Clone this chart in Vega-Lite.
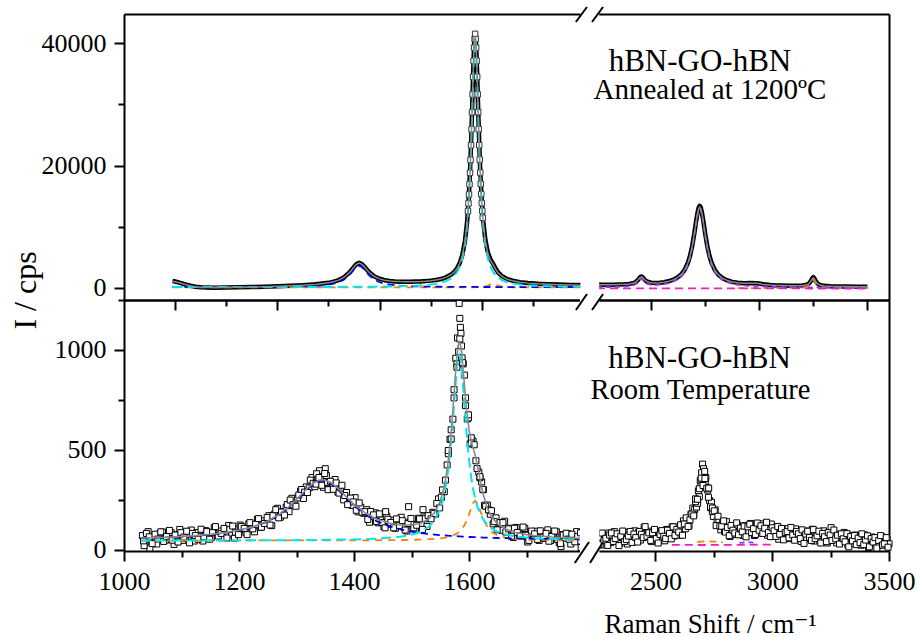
{
"$schema": "https://vega.github.io/schema/vega-lite/v6.json",
"background": "white",
"padding": {"left": 9, "top": 6, "right": 2, "bottom": 0},
"bounds": "flush",
"spacing": 0,
"config": {
  "view": {"stroke": null},
  "font": "Liberation Serif, Times New Roman, DejaVu Serif, serif",
  "axis": {"grid": false, "domainColor": "black", "domainWidth": 2, "tickColor": "black", "tickWidth": 2, "labelFont": "Liberation Serif, Times New Roman, DejaVu Serif, serif", "labelFontSize": 26, "labelColor": "black", "labelFlush": false, "labelOverlap": false, "titleFont": "Liberation Serif, Times New Roman, DejaVu Serif, serif", "titleFontWeight": "normal", "titleColor": "black", "labelPadding": 7},
  "text": {"font": "Liberation Serif, Times New Roman, DejaVu Serif, serif"}
},
"datasets": {
  "top": [
{"x":995,"s":"L","d":1100,"f":1022,"c":109,"b":113,"o":60},
{"x":1000,"s":"L","d":1030,"f":973,"c":110,"b":113,"o":60},
{"x":1010,"s":"L","d":800,"f":774,"c":110,"b":114,"o":60},
{"x":1020,"s":"L","d":540,"f":526,"c":111,"b":115,"o":60},
{"x":1030,"s":"L","d":330,"f":327,"c":111,"b":116,"o":60},
{"x":1040,"s":"L","d":170,"f":178,"c":111,"b":117,"o":60},
{"x":1050,"s":"L","d":80,"f":90,"c":112,"b":118,"o":60},
{"x":1075,"s":"L","d":20,"f":33,"c":113,"b":121,"o":60},
{"x":1100,"s":"L","d":30,"f":39,"c":114,"b":125,"o":60},
{"x":1125,"s":"L","d":80,"f":71,"c":115,"b":130,"o":60},
{"x":1150,"s":"L","d":110,"f":105,"c":117,"b":138,"o":60},
{"x":1175,"s":"L","d":170,"f":168,"c":119,"b":149,"o":60},
{"x":1200,"s":"L","d":250,"f":237,"c":122,"b":165,"o":60},
{"x":1225,"s":"L","d":320,"f":316,"c":125,"b":191,"o":61},
{"x":1250,"s":"L","d":420,"f":414,"c":129,"b":235,"o":61},
{"x":1275,"s":"L","d":560,"f":553,"c":134,"b":320,"o":61},
{"x":1300,"s":"L","d":810,"f":805,"c":140,"b":515,"o":61},
{"x":1310,"s":"L","d":990,"f":980,"c":143,"b":668,"o":61},
{"x":1320,"s":"L","d":1260,"f":1249,"c":146,"b":913,"o":61},
{"x":1330,"s":"L","d":1700,"f":1684,"c":150,"b":1324,"o":61},
{"x":1340,"s":"L","d":2420,"f":2401,"c":154,"b":2017,"o":61},
{"x":1345,"s":"L","d":2900,"f":2885,"c":156,"b":2489,"o":61},
{"x":1350,"s":"L","d":3430,"f":3409,"c":158,"b":3001,"o":61},
{"x":1355,"s":"L","d":3880,"f":3849,"c":161,"b":3428,"o":61},
{"x":1360,"s":"L","d":4080,"f":4033,"c":163,"b":3600,"o":61},
{"x":1365,"s":"L","d":3900,"f":3874,"c":166,"b":3428,"o":61},
{"x":1370,"s":"L","d":3480,"f":3460,"c":169,"b":3001,"o":61},
{"x":1375,"s":"L","d":2980,"f":2962,"c":173,"b":2489,"o":61},
{"x":1380,"s":"L","d":2520,"f":2503,"c":176,"b":2017,"o":62},
{"x":1390,"s":"L","d":1850,"f":1838,"c":184,"b":1324,"o":62},
{"x":1400,"s":"L","d":1470,"f":1456,"c":193,"b":913,"o":62},
{"x":1410,"s":"L","d":1240,"f":1237,"c":204,"b":668,"o":62},
{"x":1420,"s":"L","d":1110,"f":1112,"c":217,"b":515,"o":62},
{"x":1430,"s":"L","d":1040,"f":1042,"c":232,"b":415,"o":62},
{"x":1440,"s":"L","d":1000,"f":1007,"c":251,"b":346,"o":63},
{"x":1450,"s":"L","d":985,"f":991,"c":273,"b":297,"o":63},
{"x":1460,"s":"L","d":990,"f":993,"c":301,"b":262,"o":63},
{"x":1470,"s":"L","d":1010,"f":1006,"c":337,"b":235,"o":64},
{"x":1480,"s":"L","d":1040,"f":1036,"c":383,"b":214,"o":64},
{"x":1490,"s":"L","d":1090,"f":1085,"c":443,"b":198,"o":65},
{"x":1500,"s":"L","d":1170,"f":1159,"c":525,"b":184,"o":65},
{"x":1510,"s":"L","d":1270,"f":1262,"c":639,"b":174,"o":66},
{"x":1520,"s":"L","d":1430,"f":1420,"c":805,"b":165,"o":66},
{"x":1530,"s":"L","d":1710,"f":1693,"c":1085,"b":158,"o":67},
{"x":1540,"s":"L","d":2160,"f":2141,"c":1533,"b":152,"o":67},
{"x":1547,"s":"L","d":2680,"f":2657,"c":2052,"b":148,"o":68},
{"x":1552,"s":"L","d":3240,"f":3214,"c":2612,"b":145,"o":69},
{"x":1557,"s":"L","d":4080,"f":4042,"c":3444,"b":143,"o":70},
{"x":1562,"s":"L","d":5400,"f":5343,"c":4747,"b":141,"o":72},
{"x":1567,"s":"L","d":7600,"f":7514,"c":6920,"b":139,"o":75},
{"x":1571,"s":"L","d":10550,"f":10428,"c":9836,"b":138,"o":77},
{"x":1574,"s":"L","d":13950,"f":13815,"c":13224,"b":136,"o":79},
{"x":1577,"s":"L","d":19000,"f":18816,"c":18224,"b":135,"o":82},
{"x":1579,"s":"L","d":23500,"f":23316,"c":22726,"b":134,"o":83},
{"x":1581,"s":"L","d":29000,"f":28731,"c":28139,"b":134,"o":85},
{"x":1583,"s":"L","d":34800,"f":34514,"c":33920,"b":133,"o":88},
{"x":1584,"s":"L","d":37500,"f":37145,"c":36550,"b":133,"o":89},
{"x":1585,"s":"L","d":39700,"f":39289,"c":38693,"b":133,"o":91},
{"x":1586,"s":"L","d":41200,"f":40703,"c":40106,"b":132,"o":93},
{"x":1587,"s":"L","d":41600,"f":41198,"c":40600,"b":132,"o":95},
{"x":1588,"s":"L","d":41100,"f":40706,"c":40106,"b":132,"o":97},
{"x":1589,"s":"L","d":39650,"f":39294,"c":38693,"b":132,"o":100},
{"x":1590,"s":"L","d":37500,"f":37152,"c":36550,"b":132,"o":102},
{"x":1591,"s":"L","d":34900,"f":34524,"c":33920,"b":131,"o":105},
{"x":1593,"s":"L","d":29100,"f":28751,"c":28139,"b":131,"o":110},
{"x":1595,"s":"L","d":23700,"f":23342,"c":22726,"b":131,"o":117},
{"x":1597,"s":"L","d":19200,"f":18847,"c":18224,"b":131,"o":125},
{"x":1600,"s":"L","d":14200,"f":13861,"c":13224,"b":130,"o":142},
{"x":1603,"s":"L","d":10800,"f":10490,"c":9836,"b":129,"o":165},
{"x":1607,"s":"L","d":7850,"f":7618,"c":6920,"b":128,"o":215},
{"x":1612,"s":"L","d":5750,"f":5552,"c":4747,"b":127,"o":333},
{"x":1617,"s":"L","d":4650,"f":4468,"c":3444,"b":126,"o":563},
{"x":1622,"s":"L","d":3950,"f":3822,"c":2612,"b":125,"o":760},
{"x":1627,"s":"L","d":3150,"f":3054,"c":2052,"b":124,"o":563},
{"x":1632,"s":"L","d":2500,"f":2419,"c":1658,"b":123,"o":333},
{"x":1640,"s":"L","d":1880,"f":1823,"c":1235,"b":122,"o":176},
{"x":1650,"s":"L","d":1420,"f":1383,"c":910,"b":120,"o":113},
{"x":1660,"s":"L","d":1160,"f":1135,"c":706,"b":119,"o":90},
{"x":1675,"s":"L","d":920,"f":902,"c":519,"b":117,"o":76},
{"x":1690,"s":"L","d":780,"f":761,"c":407,"b":115,"o":69},
{"x":1710,"s":"L","d":660,"f":644,"c":316,"b":113,"o":65},
{"x":1730,"s":"L","d":580,"f":569,"c":260,"b":111,"o":63},
{"x":1750,"s":"L","d":525,"f":514,"c":223,"b":109,"o":62},
{"x":1775,"s":"L","d":475,"f":467,"c":193,"b":108,"o":61},
{"x":1796,"s":"L","d":440,"f":433,"c":175,"b":107,"o":61},
{"x":2250,"s":"R","d":520,"f":500,"p":80,"m":-90},
{"x":2275,"s":"R","d":490,"f":500,"p":90,"m":-90},
{"x":2300,"s":"R","d":510,"f":504,"p":104,"m":-91},
{"x":2325,"s":"R","d":505,"f":513,"p":123,"m":-91},
{"x":2350,"s":"R","d":540,"f":527,"p":147,"m":-92},
{"x":2375,"s":"R","d":560,"f":558,"p":188,"m":-92},
{"x":2400,"s":"R","d":640,"f":629,"p":269,"m":-93},
{"x":2420,"s":"R","d":800,"f":783,"p":429,"m":-93},
{"x":2430,"s":"R","d":980,"f":957,"p":606,"m":-94},
{"x":2440,"s":"R","d":1300,"f":1278,"p":930,"m":-94},
{"x":2450,"s":"R","d":1750,"f":1711,"p":1366,"m":-94},
{"x":2455,"s":"R","d":1840,"f":1807,"p":1463,"m":-94},
{"x":2460,"s":"R","d":1760,"f":1723,"p":1381,"m":-95},
{"x":2470,"s":"R","d":1330,"f":1316,"p":977,"m":-95},
{"x":2480,"s":"R","d":1030,"f":1021,"p":685,"m":-95},
{"x":2500,"s":"R","d":820,"f":807,"p":477,"m":-96},
{"x":2520,"s":"R","d":790,"f":780,"p":454,"m":-96},
{"x":2540,"s":"R","d":830,"f":822,"p":500,"m":-97},
{"x":2560,"s":"R","d":920,"f":910,"p":592,"m":-97},
{"x":2580,"s":"R","d":1060,"f":1049,"p":735,"m":-98},
{"x":2600,"s":"R","d":1280,"f":1266,"p":956,"m":-98},
{"x":2620,"s":"R","d":1630,"f":1610,"p":1304,"m":-99},
{"x":2640,"s":"R","d":2210,"f":2183,"p":1881,"m":-99},
{"x":2655,"s":"R","d":2920,"f":2888,"p":2589,"m":-100},
{"x":2670,"s":"R","d":4060,"f":4023,"p":3727,"m":-100},
{"x":2680,"s":"R","d":5200,"f":5163,"p":4869,"m":-100},
{"x":2690,"s":"R","d":6800,"f":6748,"p":6456,"m":-101},
{"x":2700,"s":"R","d":8900,"f":8839,"p":8549,"m":-101},
{"x":2707,"s":"R","d":10600,"f":10496,"p":10207,"m":-101},
{"x":2714,"s":"R","d":12150,"f":12032,"p":11745,"m":-101},
{"x":2720,"s":"R","d":13100,"f":12933,"p":12647,"m":-102},
{"x":2725,"s":"R","d":13400,"f":13190,"p":12905,"m":-102},
{"x":2730,"s":"R","d":13100,"f":12930,"p":12646,"m":-102},
{"x":2736,"s":"R","d":12150,"f":12027,"p":11744,"m":-102},
{"x":2743,"s":"R","d":10600,"f":10487,"p":10206,"m":-102},
{"x":2750,"s":"R","d":8900,"f":8827,"p":8547,"m":-103},
{"x":2760,"s":"R","d":6800,"f":6732,"p":6454,"m":-103},
{"x":2770,"s":"R","d":5200,"f":5142,"p":4866,"m":-103},
{"x":2780,"s":"R","d":4050,"f":3997,"p":3722,"m":-104},
{"x":2795,"s":"R","d":2900,"f":2855,"p":2582,"m":-104},
{"x":2810,"s":"R","d":2180,"f":2148,"p":1872,"m":-105},
{"x":2830,"s":"R","d":1600,"f":1570,"p":1292,"m":-105},
{"x":2850,"s":"R","d":1240,"f":1224,"p":939,"m":-106},
{"x":2875,"s":"R","d":970,"f":959,"p":667,"m":-106},
{"x":2900,"s":"R","d":820,"f":806,"p":497,"m":-107,"o":-48},
{"x":2930,"s":"R","d":740,"f":726,"p":366,"m":-108,"o":-47},
{"x":2960,"s":"R","d":770,"f":758,"p":281,"m":-108,"o":-47},
{"x":2990,"s":"R","d":745,"f":735,"p":222,"m":-109,"o":-46},
{"x":3020,"s":"R","d":565,"f":555,"p":180,"m":-110,"o":-45},
{"x":3050,"s":"R","d":450,"f":442,"p":149,"m":-110,"o":-44},
{"x":3080,"s":"R","d":385,"f":379,"p":125,"m":-111,"o":-42},
{"x":3110,"s":"R","d":360,"f":353,"p":107,"m":-112,"o":-38},
{"x":3140,"s":"R","d":335,"f":330,"p":92,"m":-112,"o":-31},
{"x":3170,"s":"R","d":330,"f":323,"p":80,"m":-113,"o":-14},
{"x":3200,"s":"R","d":370,"f":358,"p":71,"m":-114,"o":39},
{"x":3220,"s":"R","d":500,"f":478,"p":65,"m":-114,"o":171},
{"x":3230,"s":"R","d":700,"f":668,"p":63,"m":-115,"o":366},
{"x":3240,"s":"R","d":1180,"f":1127,"p":61,"m":-115,"o":830},
{"x":3245,"s":"R","d":1540,"f":1460,"p":60,"m":-115,"o":1170},
{"x":3250,"s":"R","d":1750,"f":1638,"p":59,"m":-116,"o":1350},
{"x":3255,"s":"R","d":1540,"f":1456,"p":58,"m":-116,"o":1170},
{"x":3260,"s":"R","d":1170,"f":1114,"p":57,"m":-116,"o":830},
{"x":3270,"s":"R","d":670,"f":646,"p":55,"m":-117,"o":366},
{"x":3280,"s":"R","d":460,"f":447,"p":53,"m":-117,"o":171},
{"x":3300,"s":"R","d":315,"f":307,"p":49,"m":-118,"o":39},
{"x":3330,"s":"R","d":250,"f":243,"p":44,"m":-118,"o":-14},
{"x":3360,"s":"R","d":222,"f":216,"p":40,"m":-119,"o":-31},
{"x":3400,"s":"R","d":200,"f":195,"p":36,"m":-119,"o":-40},
{"x":3450,"s":"R","d":180,"f":176,"p":31,"m":-120,"o":-44},
{"x":3500,"s":"R","d":165,"f":160,"p":27,"m":-120,"o":-46}
  ],
  "tpk": [
{"x":1573,"y":12530},{"x":1574,"y":13815},{"x":1575,"y":15270},{"x":1576,"y":16930},{"x":1577,"y":18816},{"x":1578,"y":20945},{"x":1579,"y":23316},{"x":1580,"y":25925},{"x":1581,"y":28731},{"x":1582,"y":31640},{"x":1583,"y":34514},{"x":1584,"y":37145},{"x":1585,"y":39289},{"x":1586,"y":40703},{"x":1587,"y":41550},{"x":1588,"y":40706},{"x":1589,"y":39294},{"x":1590,"y":37152},{"x":1591,"y":34524},{"x":1592,"y":31655},{"x":1593,"y":28751},{"x":1594,"y":25950},{"x":1595,"y":23342},{"x":1596,"y":20975},{"x":1597,"y":18847},{"x":1598,"y":16990},{"x":1599,"y":15335},{"x":1600,"y":13861},{"x":1601,"y":12590},{"x":1602,"y":11460}
  ],
  "bl": [
{"x":1030,"f":58,"c":46,"b":57,"o":45},{"x":1050,"f":60,"c":46,"b":59,"o":45},{"x":1075,"f":62,"c":46,"b":61,"o":45},{"x":1100,"f":66,"c":46,"b":65,"o":45},{"x":1125,"f":70,"c":46,"b":69,"o":45},{"x":1150,"f":77,"c":46,"b":75,"o":46},{"x":1175,"f":85,"c":46,"b":83,"o":46},{"x":1200,"f":97,"c":46,"b":95,"o":46},{"x":1225,"f":115,"c":47,"b":113,"o":46},{"x":1250,"f":143,"c":47,"b":141,"o":46},{"x":1270,"f":176,"c":47,"b":174,"o":46},{"x":1290,"f":223,"c":47,"b":220,"o":46},{"x":1305,"f":266,"c":48,"b":263,"o":46},{"x":1320,"f":310,"c":48,"b":306,"o":46},{"x":1330,"f":334,"c":48,"b":330,"o":46},{"x":1340,"f":348,"c":49,"b":343,"o":46},{"x":1345,"f":350,"c":49,"b":345,"o":46},{"x":1350,"f":348,"c":49,"b":343,"o":46},{"x":1360,"f":335,"c":49,"b":330,"o":46},{"x":1370,"f":312,"c":50,"b":306,"o":46},{"x":1385,"f":269,"c":50,"b":263,"o":46},{"x":1400,"f":227,"c":51,"b":220,"o":46},{"x":1420,"f":183,"c":53,"b":174,"o":46},{"x":1440,"f":152,"c":55,"b":141,"o":47},{"x":1460,"f":133,"c":59,"b":118,"o":47},{"x":1480,"f":123,"c":64,"b":102,"o":48},{"x":1500,"f":123,"c":74,"b":90,"o":49},{"x":1515,"f":131,"c":88,"b":83,"o":50},{"x":1530,"f":154,"c":114,"b":78,"o":52},{"x":1540,"f":184,"c":146,"b":75,"o":54},{"x":1550,"f":243,"c":204,"b":72,"o":56},{"x":1557,"f":317,"c":277,"b":71,"o":59},{"x":1563,"f":422,"c":380,"b":70,"o":63},{"x":1568,"f":555,"c":510,"b":69,"o":67},{"x":1572,"f":698,"c":650,"b":68,"o":71},{"x":1576,"f":862,"c":809,"b":67,"o":76},{"x":1579,"f":971,"c":913,"b":67,"o":81},{"x":1581,"f":1020,"c":959,"b":66,"o":85},{"x":1583,"f":1041,"c":975,"b":66,"o":90},{"x":1585,"f":1029,"c":959,"b":66,"o":95},{"x":1587,"f":990,"c":913,"b":65,"o":101},{"x":1590,"f":896,"c":809,"b":65,"o":113},{"x":1593,"f":791,"c":689,"b":65,"o":127},{"x":1596,"f":695,"c":576,"b":64,"o":145},{"x":1600,"f":601,"c":452,"b":63,"o":175},{"x":1604,"f":541,"c":359,"b":63,"o":209},{"x":1608,"f":501,"c":291,"b":62,"o":237},{"x":1611,"f":469,"c":252,"b":62,"o":245},{"x":1615,"f":416,"c":213,"b":62,"o":232},{"x":1620,"f":339,"c":176,"b":61,"o":192},{"x":1625,"f":273,"c":150,"b":60,"o":152},{"x":1632,"f":207,"c":125,"b":60,"o":113},{"x":1640,"f":161,"c":105,"b":59,"o":87},{"x":1650,"f":128,"c":89,"b":58,"o":71},{"x":1665,"f":101,"c":75,"b":57,"o":59},{"x":1680,"f":87,"c":67,"b":56,"o":54},{"x":1700,"f":75,"c":60,"b":55,"o":51},{"x":1720,"f":68,"c":56,"b":54,"o":49},{"x":1745,"f":63,"c":53,"b":53,"o":47},{"x":1770,"f":60,"c":51,"b":52,"o":47},{"x":1795,"f":57,"c":50,"b":51,"o":46}
  ],
  "bp": [
{"x":1032,"y":70},{"x":1037,"y":34},{"x":1042,"y":90},{"x":1047,"y":52},{"x":1052,"y":64},{"x":1057,"y":28},{"x":1062,"y":79},{"x":1067,"y":88},{"x":1072,"y":47},{"x":1077,"y":60},{"x":1082,"y":85},{"x":1087,"y":26},{"x":1092,"y":74},{"x":1097,"y":101},{"x":1102,"y":46},{"x":1107,"y":56},{"x":1112,"y":74},{"x":1117,"y":98},{"x":1122,"y":43},{"x":1127,"y":85},{"x":1132,"y":67},{"x":1137,"y":43},{"x":1142,"y":95},{"x":1147,"y":79},{"x":1152,"y":61},{"x":1157,"y":110},{"x":1162,"y":72},{"x":1167,"y":93},{"x":1172,"y":60},{"x":1177,"y":102},{"x":1182,"y":121},{"x":1187,"y":78},{"x":1192,"y":57},{"x":1197,"y":103},{"x":1202,"y":123},{"x":1207,"y":99},{"x":1212,"y":85},{"x":1217,"y":129},{"x":1222,"y":114},{"x":1227,"y":89},{"x":1232,"y":152},{"x":1237,"y":112},{"x":1242,"y":144},{"x":1247,"y":132},{"x":1252,"y":170},{"x":1257,"y":120},{"x":1262,"y":178},{"x":1267,"y":207},{"x":1272,"y":162},{"x":1277,"y":191},{"x":1282,"y":212},{"x":1287,"y":190},{"x":1292,"y":257},{"x":1297,"y":231},{"x":1302,"y":259},{"x":1307,"y":293},{"x":1312,"y":256},{"x":1317,"y":314},{"x":1322,"y":309},{"x":1327,"y":361},{"x":1332,"y":315},{"x":1337,"y":349},{"x":1342,"y":366},{"x":1347,"y":312},{"x":1352,"y":371},{"x":1357,"y":329},{"x":1362,"y":327},{"x":1367,"y":351},{"x":1372,"y":288},{"x":1377,"y":301},{"x":1382,"y":249},{"x":1387,"y":286},{"x":1392,"y":249},{"x":1397,"y":221},{"x":1402,"y":260},{"x":1407,"y":189},{"x":1412,"y":212},{"x":1417,"y":182},{"x":1422,"y":200},{"x":1427,"y":137},{"x":1432,"y":178},{"x":1437,"y":184},{"x":1442,"y":134},{"x":1447,"y":149},{"x":1452,"y":115},{"x":1457,"y":167},{"x":1462,"y":127},{"x":1467,"y":147},{"x":1472,"y":107},{"x":1477,"y":131},{"x":1482,"y":162},{"x":1487,"y":111},{"x":1492,"y":93},{"x":1497,"y":138},{"x":1502,"y":126},{"x":1507,"y":103},{"x":1512,"y":157},{"x":1517,"y":125},{"x":1522,"y":164},{"x":1527,"y":116},{"x":1532,"y":166},{"x":1537,"y":187},{"x":1542,"y":178},{"x":1547,"y":254},{"x":1552,"y":262},{"x":1557,"y":290},{"x":1562,"y":424},{"x":1567,"y":552},{"x":1572,"y":653},{"x":1577,"y":958},{"x":1582,"y":992},{"x":1587,"y":1020},{"x":1592,"y":874},{"x":1597,"y":654},{"x":1602,"y":529},{"x":1607,"y":544},{"x":1612,"y":445},{"x":1617,"y":388},{"x":1622,"y":339},{"x":1627,"y":222},{"x":1632,"y":223},{"x":1637,"y":177},{"x":1642,"y":129},{"x":1647,"y":159},{"x":1652,"y":133},{"x":1657,"y":97},{"x":1662,"y":142},{"x":1667,"y":92},{"x":1672,"y":107},{"x":1677,"y":61},{"x":1682,"y":111},{"x":1687,"y":84},{"x":1692,"y":67},{"x":1697,"y":106},{"x":1702,"y":38},{"x":1707,"y":89},{"x":1712,"y":67},{"x":1717,"y":92},{"x":1722,"y":46},{"x":1727,"y":78},{"x":1732,"y":56},{"x":1737,"y":99},{"x":1742,"y":45},{"x":1747,"y":68},{"x":1752,"y":89},{"x":1757,"y":34},{"x":1762,"y":75},{"x":1767,"y":57},{"x":1772,"y":80},{"x":1777,"y":28},{"x":1782,"y":66},{"x":1787,"y":90},{"x":1792,"y":43},
{"x":1574,"y":760},{"x":1579,"y":930},{"x":1580,"y":1060},{"x":1583,"y":1233},{"x":1584,"y":1158},{"x":1585,"y":1113},{"x":1586,"y":1083},{"x":1588,"y":960},{"x":1590,"y":930},{"x":1594,"y":760},{"x":1599,"y":660},{"x":1604,"y":560},{"x":1569,"y":600},{"x":1564,"y":480},{"x":1619,"y":360},{"x":1625,"y":300},{"x":1340,"y":395},{"x":1350,"y":405},{"x":1335,"y":380},{"x":1355,"y":300},{"x":1345,"y":330},{"x":1495,"y":215},{"x":1455,"y":190},{"x":1520,"y":200},{"x":1045,"y":8},{"x":1035,"y":20},{"x":1795,"y":10},{"x":1760,"y":15},
{"x":1034,"y":44},{"x":1039,"y":81},{"x":1044,"y":64},{"x":1049,"y":30},{"x":1054,"y":77},{"x":1059,"y":53},{"x":1064,"y":89},{"x":1069,"y":41},{"x":1074,"y":65},{"x":1079,"y":96},{"x":1084,"y":47},{"x":1089,"y":73},{"x":1094,"y":38},{"x":1099,"y":85},{"x":1104,"y":63},{"x":1109,"y":92},{"x":1114,"y":34},{"x":1119,"y":81},{"x":1124,"y":70},{"x":1129,"y":52},{"x":1134,"y":102},{"x":1139,"y":64},{"x":1144,"y":90},{"x":1149,"y":52},{"x":1154,"y":85},{"x":1159,"y":115},{"x":1164,"y":68},{"x":1169,"y":81},{"x":1174,"y":106},{"x":1179,"y":58},{"x":1184,"y":100},{"x":1189,"y":118},{"x":1194,"y":87},{"x":1199,"y":75},{"x":1204,"y":116},{"x":1209,"y":106},{"x":1214,"y":75},{"x":1219,"y":135},{"x":1224,"y":104},{"x":1229,"y":127},{"x":1234,"y":155},{"x":1239,"y":112},{"x":1244,"y":131},{"x":1249,"y":161},{"x":1254,"y":123},{"x":1259,"y":170},{"x":1264,"y":200},{"x":1269,"y":159},{"x":1274,"y":188},{"x":1279,"y":173},{"x":1284,"y":226},{"x":1289,"y":248},{"x":1294,"y":225},{"x":1299,"y":217},{"x":1304,"y":273},{"x":1309,"y":301},{"x":1314,"y":288},{"x":1319,"y":286},{"x":1324,"y":348},{"x":1329,"y":332},{"x":1334,"y":328},{"x":1339,"y":361},{"x":1344,"y":322},{"x":1349,"y":381},{"x":1354,"y":337},{"x":1359,"y":342},{"x":1364,"y":302},{"x":1369,"y":334},{"x":1374,"y":283},{"x":1379,"y":322},{"x":1384,"y":271},{"x":1389,"y":225},{"x":1394,"y":258},{"x":1399,"y":239},{"x":1404,"y":197},{"x":1409,"y":234},{"x":1414,"y":187},{"x":1419,"y":190},{"x":1424,"y":151},{"x":1429,"y":191},{"x":1434,"y":174},{"x":1439,"y":141},{"x":1444,"y":179},{"x":1449,"y":136},{"x":1454,"y":109},{"x":1459,"y":152},{"x":1464,"y":136},{"x":1469,"y":109},{"x":1474,"y":154},{"x":1479,"y":121},{"x":1484,"y":145},{"x":1489,"y":98},{"x":1494,"y":131},{"x":1499,"y":156},{"x":1504,"y":109},{"x":1509,"y":122},{"x":1514,"y":154},{"x":1519,"y":101},{"x":1524,"y":155},{"x":1529,"y":170},{"x":1534,"y":154},{"x":1539,"y":181},{"x":1544,"y":231},{"x":1549,"y":209},{"x":1554,"y":299},{"x":1559,"y":348},{"x":1564,"y":496},{"x":1569,"y":554},{"x":1574,"y":801},{"x":1579,"y":913},{"x":1584,"y":1055},{"x":1589,"y":936},{"x":1594,"y":721},{"x":1599,"y":675},{"x":1604,"y":534},{"x":1609,"y":525},{"x":1614,"y":406},{"x":1619,"y":365},{"x":1624,"y":302},{"x":1629,"y":217},{"x":1634,"y":199},{"x":1639,"y":195},{"x":1644,"y":140},{"x":1649,"y":99},{"x":1654,"y":135},{"x":1659,"y":135},{"x":1664,"y":88},{"x":1669,"y":104},{"x":1674,"y":67},{"x":1679,"y":107},{"x":1684,"y":86},{"x":1689,"y":70},{"x":1694,"y":113},{"x":1699,"y":72},{"x":1704,"y":46},{"x":1709,"y":93},{"x":1714,"y":79},{"x":1719,"y":51},{"x":1724,"y":94},{"x":1729,"y":62},{"x":1734,"y":81},{"x":1739,"y":42},{"x":1744,"y":66},{"x":1749,"y":93},{"x":1754,"y":51},{"x":1759,"y":30},{"x":1764,"y":73},{"x":1769,"y":82},{"x":1774,"y":52},{"x":1779,"y":77},{"x":1784,"y":39},{"x":1789,"y":65},{"x":1794,"y":84},
{"x":2252,"y":38},{"x":2260,"y":74},{"x":2268,"y":58},{"x":2276,"y":23},{"x":2284,"y":71},{"x":2292,"y":46},{"x":2300,"y":83},{"x":2308,"y":35},{"x":2316,"y":60},{"x":2324,"y":90},{"x":2332,"y":41},{"x":2340,"y":67},{"x":2348,"y":31},{"x":2356,"y":77},{"x":2364,"y":56},{"x":2372,"y":86},{"x":2380,"y":28},{"x":2388,"y":74},{"x":2396,"y":63},{"x":2404,"y":45},{"x":2412,"y":94},{"x":2420,"y":57},{"x":2428,"y":85},{"x":2436,"y":48},{"x":2444,"y":83},{"x":2452,"y":112},{"x":2460,"y":64},{"x":2468,"y":72},{"x":2476,"y":92},{"x":2484,"y":40},{"x":2492,"y":79},{"x":2500,"y":94},{"x":2508,"y":61},{"x":2516,"y":47},{"x":2524,"y":85},{"x":2532,"y":73},{"x":2540,"y":44},{"x":2548,"y":101},{"x":2556,"y":68},{"x":2564,"y":89},{"x":2572,"y":114},{"x":2580,"y":68},{"x":2588,"y":85},{"x":2596,"y":113},{"x":2604,"y":72},{"x":2612,"y":117},{"x":2620,"y":144},{"x":2628,"y":104},{"x":2636,"y":133},{"x":2644,"y":119},{"x":2652,"y":177},{"x":2660,"y":208},{"x":2668,"y":201},{"x":2676,"y":213},{"x":2684,"y":294},{"x":2692,"y":345},{"x":2700,"y":344},{"x":2708,"y":331},{"x":2716,"y":361},{"x":2724,"y":298},{"x":2732,"y":246},{"x":2740,"y":237},{"x":2748,"y":166},{"x":2756,"y":199},{"x":2764,"y":142},{"x":2772,"y":141},{"x":2780,"y":99},{"x":2788,"y":134},{"x":2796,"y":92},{"x":2804,"y":140},{"x":2812,"y":100},{"x":2820,"y":66},{"x":2828,"y":112},{"x":2836,"y":107},{"x":2844,"y":76},{"x":2852,"y":122},{"x":2860,"y":87},{"x":2868,"y":100},{"x":2876,"y":71},{"x":2884,"y":120},{"x":2892,"y":112},{"x":2900,"y":87},{"x":2908,"y":131},{"x":2916,"y":93},{"x":2924,"y":71},{"x":2932,"y":119},{"x":2940,"y":107},{"x":2948,"y":83},{"x":2956,"y":129},{"x":2964,"y":97},{"x":2972,"y":121},{"x":2980,"y":72},{"x":2988,"y":104},{"x":2996,"y":128},{"x":3004,"y":77},{"x":3012,"y":85},{"x":3020,"y":113},{"x":3028,"y":52},{"x":3036,"y":96},{"x":3044,"y":101},{"x":3052,"y":69},{"x":3060,"y":79},{"x":3068,"y":105},{"x":3076,"y":55},{"x":3084,"y":90},{"x":3092,"y":73},{"x":3100,"y":104},{"x":3108,"y":54},{"x":3116,"y":78},{"x":3124,"y":41},{"x":3132,"y":89},{"x":3140,"y":70},{"x":3148,"y":55},{"x":3156,"y":93},{"x":3164,"y":60},{"x":3172,"y":102},{"x":3180,"y":43},{"x":3188,"y":76},{"x":3196,"y":82},{"x":3204,"y":46},{"x":3212,"y":70},{"x":3220,"y":94},{"x":3228,"y":56},{"x":3236,"y":33},{"x":3244,"y":77},{"x":3252,"y":110},{"x":3260,"y":47},{"x":3268,"y":67},{"x":3276,"y":34},{"x":3284,"y":77},{"x":3292,"y":57},{"x":3300,"y":41},{"x":3308,"y":86},{"x":3316,"y":48},{"x":3324,"y":23},{"x":3332,"y":71},{"x":3340,"y":58},{"x":3348,"y":31},{"x":3356,"y":73},{"x":3364,"y":42},{"x":3372,"y":61},{"x":3380,"y":22},{"x":3388,"y":48},{"x":3396,"y":74},{"x":3404,"y":32},{"x":3412,"y":11},{"x":3420,"y":54},{"x":3428,"y":63},{"x":3436,"y":33},{"x":3444,"y":58},{"x":3452,"y":20},{"x":3460,"y":46},{"x":3468,"y":65},{"x":3476,"y":23},{"x":3484,"y":37},{"x":3492,"y":51},{"x":3500,"y":29},
{"x":2702,"y":428},{"x":2706,"y":405},{"x":2698,"y":385},{"x":2711,"y":392},{"x":2695,"y":318},{"x":2713,"y":340},{"x":2688,"y":265},{"x":2719,"y":312},{"x":2681,"y":232},{"x":2727,"y":262},{"x":2664,"y":175},{"x":2736,"y":210},{"x":2744,"y":190},{"x":2672,"y":240},
{"x":2256,"y":63},{"x":2264,"y":27},{"x":2272,"y":83},{"x":2280,"y":45},{"x":2288,"y":57},{"x":2296,"y":21},{"x":2304,"y":73},{"x":2312,"y":83},{"x":2320,"y":41},{"x":2328,"y":55},{"x":2336,"y":79},{"x":2344,"y":20},{"x":2352,"y":67},{"x":2360,"y":93},{"x":2368,"y":40},{"x":2376,"y":50},{"x":2384,"y":68},{"x":2392,"y":91},{"x":2400,"y":36},{"x":2408,"y":78},{"x":2416,"y":60},{"x":2424,"y":38},{"x":2432,"y":91},{"x":2440,"y":77},{"x":2448,"y":60},{"x":2456,"y":115},{"x":2464,"y":67},{"x":2472,"y":84},{"x":2480,"y":46},{"x":2488,"y":84},{"x":2496,"y":101},{"x":2504,"y":55},{"x":2512,"y":33},{"x":2520,"y":76},{"x":2528,"y":95},{"x":2536,"y":67},{"x":2544,"y":55},{"x":2552,"y":97},{"x":2560,"y":81},{"x":2568,"y":54},{"x":2576,"y":114},{"x":2584,"y":71},{"x":2592,"y":101},{"x":2600,"y":88},{"x":2608,"y":124},{"x":2616,"y":72},{"x":2624,"y":129},{"x":2632,"y":159},{"x":2640,"y":116},{"x":2648,"y":149},{"x":2656,"y":178},{"x":2664,"y":169},{"x":2672,"y":254},{"x":2680,"y":252},{"x":2688,"y":305},{"x":2696,"y":358},{"x":2704,"y":321},{"x":2712,"y":356},{"x":2720,"y":307},{"x":2728,"y":308},{"x":2736,"y":214},{"x":2744,"y":208},{"x":2752,"y":194},{"x":2760,"y":120},{"x":2768,"y":167},{"x":2776,"y":119},{"x":2784,"y":117},{"x":2792,"y":144},{"x":2800,"y":88},{"x":2808,"y":111},{"x":2816,"y":70},{"x":2824,"y":121},{"x":2832,"y":97},{"x":2840,"y":83},{"x":2848,"y":134},{"x":2856,"y":74},{"x":2864,"y":108},{"x":2872,"y":89},{"x":2880,"y":118},{"x":2888,"y":64},{"x":2896,"y":114},{"x":2904,"y":127},{"x":2912,"y":85},{"x":2920,"y":105},{"x":2928,"y":76},{"x":2936,"y":133},{"x":2944,"y":97},{"x":2952,"y":119},{"x":2960,"y":81},{"x":2968,"y":107},{"x":2976,"y":137},{"x":2984,"y":85},{"x":2992,"y":65},{"x":3000,"y":109},{"x":3008,"y":94},{"x":3016,"y":66},{"x":3024,"y":116},{"x":3032,"y":77},{"x":3040,"y":106},{"x":3048,"y":49},{"x":3056,"y":85},{"x":3064,"y":90},{"x":3072,"y":59},{"x":3080,"y":111},{"x":3088,"y":73},{"x":3096,"y":47},{"x":3104,"y":91},{"x":3112,"y":79},{"x":3120,"y":55},{"x":3128,"y":99},{"x":3136,"y":31},{"x":3144,"y":78},{"x":3152,"y":92},{"x":3160,"y":61},{"x":3168,"y":46},{"x":3176,"y":100},{"x":3184,"y":55},{"x":3192,"y":69},{"x":3200,"y":92},{"x":3208,"y":33},{"x":3216,"y":81},{"x":3224,"y":64},{"x":3232,"y":40},{"x":3240,"y":85},{"x":3248,"y":73},{"x":3256,"y":46},{"x":3264,"y":98},{"x":3272,"y":54},{"x":3280,"y":72},{"x":3288,"y":28},{"x":3296,"y":79},{"x":3304,"y":54},{"x":3312,"y":39},{"x":3320,"y":80},{"x":3328,"y":14},{"x":3336,"y":66},{"x":3344,"y":44},{"x":3352,"y":70},{"x":3360,"y":25},{"x":3368,"y":57},{"x":3376,"y":35},{"x":3384,"y":79},{"x":3392,"y":25},{"x":3400,"y":48},{"x":3408,"y":69},{"x":3416,"y":14},{"x":3424,"y":55},{"x":3432,"y":38},{"x":3440,"y":60},{"x":3448,"y":8},{"x":3456,"y":46},{"x":3464,"y":70},{"x":3472,"y":23},{"x":3480,"y":29},{"x":3488,"y":60},{"x":3496,"y":12}
  ],
  "brm": [{"x":2570,"y":24},{"x":2700,"y":23},{"x":2850,"y":24},{"x":3000,"y":25}],
  "bro": [{"x":2680,"y":38},{"x":2720,"y":42},{"x":2760,"y":40},{"x":2790,"y":36}],
  "brp": [{"x":2860,"y":34},{"x":2900,"y":37},{"x":2930,"y":34}]
},
"resolve": {"scale": {"x": "independent", "y": "independent"}},
"vconcat": [
{
  "width": 765, "height": 286,
  "resolve": {"axis": {"x": "independent", "y": "independent"}},
  "layer": [
    {"data": {"name": "top"},
     "mark": {"type": "line", "color": "black", "strokeWidth": 4.5, "strokeJoin": "round"},
     "encoding": {
       "x": {"field": "x", "type": "quantitative",
             "scale": {"domain": [900, 1800, 2250, 3600], "range": [0, 460, 473, 765], "nice": false, "zero": false},
             "axis": {"orient": "bottom", "values": [1000,1100,1200,1300,1400,1500,1600,1700,2500,2750,3000,3250,3500], "labels": false, "title": null,
                      "tickSize": {"condition": {"test": "(datum.value < 2000 && datum.value % 200 != 0) || (datum.value > 2000 && datum.value % 500 != 0)", "value": 6}, "value": 10}}},
       "y": {"field": "d", "type": "quantitative",
             "scale": {"domain": [-2000, 44800], "nice": false, "zero": false},
             "axis": {"orient": "left", "values": [0,10000,20000,30000,40000], "format": "d", "labelPadding": 8,
                      "labelExpr": "datum.value % 20000 != 0 ? '' : datum.label",
                      "tickSize": {"condition": {"test": "datum.value % 20000 != 0", "value": 6}, "value": 10},
                      "title": "I / cps", "titleFontSize": 32, "titleX": -89, "titleY": 276, "titleAngle": 270, "titleAlign": "center", "titleBaseline": "alphabetic"}},
       "detail": {"field": "s"}
     }},
    {"data": {"name": "tpk"},
     "mark": {"type": "point", "shape": "square", "filled": true, "fill": "white", "stroke": "#333333", "strokeWidth": 1, "size": 30, "opacity": 1},
     "encoding": {"x": {"field": "x", "type": "quantitative", "axis": null}, "y": {"field": "y", "type": "quantitative", "axis": null}}},
    {"data": {"name": "top"},
     "mark": {"type": "line", "color": "#ff8000", "strokeWidth": 1.8, "strokeDash": [7, 6]},
     "encoding": {"x": {"field": "x", "type": "quantitative", "axis": null}, "y": {"field": "o", "type": "quantitative", "axis": null}, "detail": {"field": "s"}}},
    {"data": {"name": "top"},
     "mark": {"type": "line", "color": "#0000ee", "strokeWidth": 1.8, "strokeDash": [7, 5]},
     "encoding": {"x": {"field": "x", "type": "quantitative", "axis": null}, "y": {"field": "b", "type": "quantitative", "axis": null}}},
    {"data": {"name": "top"},
     "mark": {"type": "line", "color": "#00e5ee", "strokeWidth": 2, "strokeDash": [10, 5]},
     "encoding": {"x": {"field": "x", "type": "quantitative", "axis": null}, "y": {"field": "c", "type": "quantitative", "axis": null}}},
    {"data": {"name": "top"},
     "mark": {"type": "line", "color": "#f020c0", "strokeWidth": 1.8, "strokeDash": [8, 5]},
     "encoding": {"x": {"field": "x", "type": "quantitative", "axis": null}, "y": {"field": "m", "type": "quantitative", "axis": null}}},
    {"data": {"name": "top"},
     "mark": {"type": "line", "color": "#9932ff", "strokeWidth": 1.8, "strokeDash": [5, 4]},
     "encoding": {"x": {"field": "x", "type": "quantitative", "axis": null}, "y": {"field": "p", "type": "quantitative", "axis": null}}},
    {"data": {"name": "top"},
     "mark": {"type": "line", "color": "#8a8a8a", "strokeWidth": 1.5},
     "encoding": {
       "x": {"field": "x", "type": "quantitative", "axis": {"orient": "top", "ticks": false, "labels": false, "title": null}},
       "y": {"field": "f", "type": "quantitative", "axis": {"orient": "right", "ticks": false, "labels": false, "title": null}},
       "detail": {"field": "s"}}},
    {"data": {"values": [{}]},
     "mark": {"type": "rect", "color": "white"},
     "encoding": {"x": {"datum": 1793, "type": "quantitative", "axis": null}, "x2": {"datum": 2260},
                  "y": {"datum": -2700, "type": "quantitative", "axis": null}, "y2": {"datum": 45500}}},
    {"data": {"values": [{}]},
     "mark": {"type": "rule", "color": "black", "strokeWidth": 2},
     "encoding": {"x": {"datum": 1784, "type": "quantitative", "axis": null}, "x2": {"datum": 1904},
                  "y": {"datum": 43491, "type": "quantitative", "axis": null}, "y2": {"datum": 45945}}},
    {"data": {"values": [{}]},
     "mark": {"type": "rule", "color": "black", "strokeWidth": 2},
     "encoding": {"x": {"datum": 2077, "type": "quantitative", "axis": null}, "x2": {"datum": 2278},
                  "y": {"datum": 43491, "type": "quantitative", "axis": null}, "y2": {"datum": 45945}}},
    {"data": {"values": [{}]},
     "mark": {"type": "text", "text": "hBN-GO-hBN", "font": "Liberation Serif, Times New Roman, DejaVu Serif, serif", "fontSize": 31, "align": "center", "baseline": "alphabetic", "color": "black"},
     "encoding": {"x": {"datum": 2726, "type": "quantitative", "axis": null}, "y": {"datum": 35470, "type": "quantitative", "axis": null}}},
    {"data": {"values": [{}]},
     "mark": {"type": "text", "text": "Annealed at 1200ºC", "font": "Liberation Serif, Times New Roman, DejaVu Serif, serif", "fontSize": 29, "align": "center", "baseline": "alphabetic", "color": "black"},
     "encoding": {"x": {"datum": 2772, "type": "quantitative", "axis": null}, "y": {"datum": 30900, "type": "quantitative", "axis": null}}}
  ]
},
{
  "width": 765, "height": 251,
  "resolve": {"axis": {"x": "independent", "y": "independent"}},
  "layer": [
    {"data": {"name": "bp"},
     "mark": {"type": "point", "shape": "square", "filled": true, "fill": "white", "stroke": "black", "strokeWidth": 1, "size": 36, "opacity": 1},
     "encoding": {
       "x": {"field": "x", "type": "quantitative",
             "scale": {"domain": [1000, 1800, 2250, 3500], "range": [0, 460, 473, 765], "nice": false, "zero": false},
             "axis": {"orient": "bottom", "values": [1000,1100,1200,1300,1400,1500,1600,1700,2500,2750,3000,3250,3500], "format": "d",
                      "labelExpr": "(datum.value < 2000 && datum.value % 200 != 0) || (datum.value > 2000 && datum.value % 500 != 0) ? '' : datum.label",
                      "tickSize": {"condition": {"test": "(datum.value < 2000 && datum.value % 200 != 0) || (datum.value > 2000 && datum.value % 500 != 0)", "value": 6}, "value": 10},
                      "title": "Raman Shift / cm⁻¹", "titleFontSize": 27, "titleX": 586, "titleY": 81, "titleAlign": "center", "titleBaseline": "alphabetic"}},
       "y": {"field": "y", "type": "quantitative",
             "scale": {"domain": [-7, 1250], "nice": false, "zero": false},
             "axis": {"orient": "left", "values": [0,250,500,750,1000,1250], "format": "d", "labelPadding": 8,
                      "labelExpr": "datum.value % 500 != 0 ? '' : datum.label",
                      "tickSize": {"condition": {"test": "datum.value % 500 != 0", "value": 6}, "value": 10},
                      "title": null}}
     }},
    {"data": {"name": "bl"},
     "mark": {"type": "line", "color": "#ff8000", "strokeWidth": 1.8, "strokeDash": [7, 6]},
     "encoding": {"x": {"field": "x", "type": "quantitative", "axis": null}, "y": {"field": "o", "type": "quantitative", "axis": null}}},
    {"data": {"name": "bl"},
     "mark": {"type": "line", "color": "#0000ee", "strokeWidth": 1.8, "strokeDash": [7, 5]},
     "encoding": {"x": {"field": "x", "type": "quantitative", "axis": null}, "y": {"field": "b", "type": "quantitative", "axis": null}}},
    {"data": {"name": "bl"},
     "mark": {"type": "line", "color": "#00e5ee", "strokeWidth": 2, "strokeDash": [10, 5]},
     "encoding": {"x": {"field": "x", "type": "quantitative", "axis": null}, "y": {"field": "c", "type": "quantitative", "axis": null}}},
    {"data": {"name": "bl"},
     "mark": {"type": "line", "color": "#8a8a8a", "strokeWidth": 1.6},
     "encoding": {
       "x": {"field": "x", "type": "quantitative", "axis": {"orient": "top", "ticks": false, "labels": false, "title": null}},
       "y": {"field": "f", "type": "quantitative", "axis": {"orient": "right", "ticks": false, "labels": false, "title": null}}}},
    {"data": {"name": "brm"},
     "mark": {"type": "line", "color": "#f020c0", "strokeWidth": 1.8, "strokeDash": [8, 5]},
     "encoding": {"x": {"field": "x", "type": "quantitative", "axis": null}, "y": {"field": "y", "type": "quantitative", "axis": null}}},
    {"data": {"name": "bro"},
     "mark": {"type": "line", "color": "#ff8000", "strokeWidth": 1.8, "strokeDash": [7, 5]},
     "encoding": {"x": {"field": "x", "type": "quantitative", "axis": null}, "y": {"field": "y", "type": "quantitative", "axis": null}}},
    {"data": {"name": "brp"},
     "mark": {"type": "line", "color": "#9932ff", "strokeWidth": 1.8, "strokeDash": [5, 4]},
     "encoding": {"x": {"field": "x", "type": "quantitative", "axis": null}, "y": {"field": "y", "type": "quantitative", "axis": null}}},
    {"data": {"values": [{}]},
     "mark": {"type": "rect", "color": "white"},
     "encoding": {"x": {"datum": 1793, "type": "quantitative", "axis": null}, "x2": {"datum": 2260},
                  "y": {"datum": -30, "type": "quantitative", "axis": null}, "y2": {"datum": 1275}}},
    {"data": {"values": [{}]},
     "mark": {"type": "rule", "color": "black", "strokeWidth": 2},
     "encoding": {"x": {"datum": 1786, "type": "quantitative", "axis": null}, "x2": {"datum": 1904},
                  "y": {"datum": 1200, "type": "quantitative", "axis": null}, "y2": {"datum": 1280}}},
    {"data": {"values": [{}]},
     "mark": {"type": "rule", "color": "black", "strokeWidth": 2},
     "encoding": {"x": {"datum": 2077, "type": "quantitative", "axis": null}, "x2": {"datum": 2276},
                  "y": {"datum": 1200, "type": "quantitative", "axis": null}, "y2": {"datum": 1280}}},
    {"data": {"values": [{}]},
     "mark": {"type": "rule", "color": "black", "strokeWidth": 2},
     "encoding": {"x": {"datum": 1784, "type": "quantitative", "axis": null}, "x2": {"datum": 1973},
                  "y": {"datum": -67, "type": "quantitative", "axis": null}, "y2": {"datum": 38}}},
    {"data": {"values": [{}]},
     "mark": {"type": "rule", "color": "black", "strokeWidth": 2},
     "encoding": {"x": {"datum": 2008, "type": "quantitative", "axis": null}, "x2": {"datum": 2276},
                  "y": {"datum": -67, "type": "quantitative", "axis": null}, "y2": {"datum": 38}}},
    {"data": {"values": [{}]},
     "mark": {"type": "text", "text": "hBN-GO-hBN", "font": "Liberation Serif, Times New Roman, DejaVu Serif, serif", "fontSize": 31, "align": "center", "baseline": "alphabetic", "color": "black"},
     "encoding": {"x": {"datum": 2689, "type": "quantitative", "axis": null}, "y": {"datum": 909, "type": "quantitative", "axis": null}}},
    {"data": {"values": [{}]},
     "mark": {"type": "text", "text": "Room Temperature", "font": "Liberation Serif, Times New Roman, DejaVu Serif, serif", "fontSize": 28.5, "align": "center", "baseline": "alphabetic", "color": "black"},
     "encoding": {"x": {"datum": 2693, "type": "quantitative", "axis": null}, "y": {"datum": 755, "type": "quantitative", "axis": null}}}
  ]
}
]
}
